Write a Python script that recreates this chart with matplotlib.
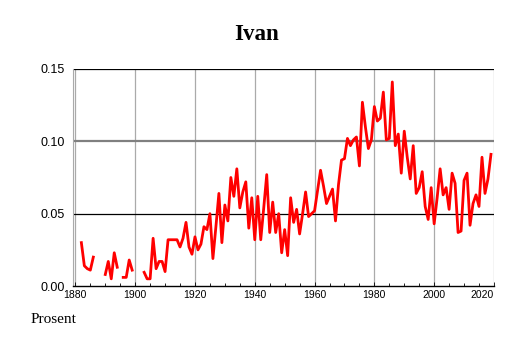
import numpy as np
import matplotlib
matplotlib.use("Agg")
import matplotlib.pyplot as plt

# share of people named Ivan, per year (nan = no data)
years = np.arange(1880, 2020)
share = [
    np.nan, np.nan, 0.030, 0.014, 0.012, 0.011, 0.020, np.nan, np.nan, np.nan,   # 1880s
    0.008, 0.017, 0.005, 0.023, 0.013, np.nan, 0.006, 0.006, 0.018, 0.011,        # 1890s
    np.nan, np.nan, np.nan, 0.0095, 0.005, 0.005, 0.033, 0.012, 0.017, 0.017,     # 1900s
    0.010, 0.032, 0.032, 0.032, 0.032, 0.027, 0.033, 0.044, 0.027, 0.022,         # 1910s
    0.034, 0.025, 0.029, 0.041, 0.039, 0.050, 0.019, 0.041, 0.064, 0.030,         # 1920s
    0.056, 0.045, 0.075, 0.062, 0.081, 0.054, 0.065, 0.072, 0.040, 0.061,         # 1930s
    0.032, 0.062, 0.032, 0.054, 0.077, 0.037, 0.058, 0.037, 0.050, 0.023,         # 1940s
    0.039, 0.021, 0.061, 0.044, 0.053, 0.036, 0.050, 0.065, 0.048, 0.050,         # 1950s
    0.052, 0.066, 0.080, 0.069, 0.057, 0.062, 0.067, 0.045, 0.070, 0.087,         # 1960s
    0.088, 0.102, 0.097, 0.101, 0.103, 0.083, 0.127, 0.110, 0.095, 0.101,         # 1970s
    0.124, 0.114, 0.116, 0.134, 0.101, 0.102, 0.141, 0.097, 0.105, 0.078,         # 1980s
    0.107, 0.089, 0.074, 0.097, 0.064, 0.068, 0.079, 0.055, 0.046, 0.068,         # 1990s
    0.043, 0.061, 0.081, 0.063, 0.068, 0.053, 0.078, 0.071, 0.037, 0.038,         # 2000s
    0.073, 0.078, 0.042, 0.057, 0.063, 0.055, 0.089, 0.064, 0.074, 0.091,         # 2010s
]
xticks = [1880, 1900, 1920, 1940, 1960, 1980, 2000, 2020]
yticks = [0.00, 0.05, 0.10, 0.15]

fig = plt.figure(figsize=(5.14, 3.43), dpi=100)
ax = fig.add_axes([0.142, 0.166, 0.819, 0.633])

# grid
for x in xticks:
    ax.axvline(x, color="#aaaaaa", lw=0.9, zorder=1)
ax.axhline(0.05, color="black", lw=0.9, zorder=1)
ax.axhline(0.10, color="#808080", lw=1.6, zorder=1)
ax.axhline(0.15, color="black", lw=0.9, zorder=1)

ax.plot(years, share, color="#ff0000", lw=2.0, zorder=3)

ax.set_xlim(1879.2, 2020.0)
ax.set_ylim(0, 0.15)
ax.set_xticks(xticks)
ax.set_xticks(np.arange(1880, 2021, 5), minor=True)
ax.set_yticks(yticks)
ax.set_yticklabels(["%.2f" % v for v in yticks], fontsize=9, family="Liberation Sans")
ax.set_xticklabels([str(x) for x in xticks], fontsize=7.5, family="Liberation Sans")
ax.get_xticklabels()[-1].set_horizontalalignment("right")
ax.tick_params(axis="x", which="both", direction="in", length=3, width=0.6, pad=3)
ax.tick_params(axis="x", which="minor", length=2)
ax.tick_params(axis="y", length=0, pad=6)

for s in ["top", "right"]:
    ax.spines[s].set_visible(False)
ax.spines["left"].set_color("#aaaaaa")
ax.spines["bottom"].set_color("black")
ax.spines["bottom"].set_linewidth(1.0)

fig.text(0.5, 0.900, "Ivan", ha="center", va="center", fontsize=16.5,
         fontweight="bold", family="Liberation Serif")
fig.text(0.06, 0.068, "Prosent", ha="left", va="center", fontsize=11,
         family="Liberation Serif")

fig.savefig("out.png", dpi=100)
